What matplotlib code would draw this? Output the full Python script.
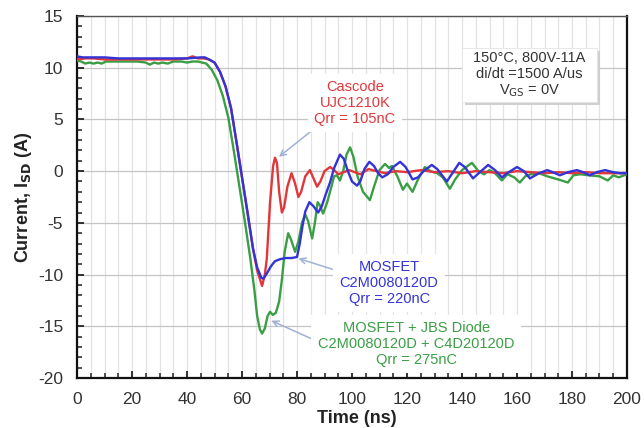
import matplotlib
matplotlib.use("Agg")
import matplotlib.pyplot as plt
from matplotlib.patches import Rectangle
from matplotlib.ticker import MultipleLocator

plt.rcParams['font.family'] = ['Liberation Sans', 'DejaVu Sans']
plt.rcParams['axes.unicode_minus'] = False

# Reverse-recovery current waveforms, time in ns, current in A
cascode_t = [0, 3, 6, 10, 15, 20, 25, 30, 35, 40, 42, 44, 46, 48, 50, 52, 54, 56, 58, 60,
             62, 64, 65.5, 67.3, 68.3, 69, 70.2, 71.3, 72, 72.7, 73.5, 74.5, 75.3, 76.5,
             78, 79.3, 80.5, 81.5, 83, 84.7, 86, 87.3, 88.5, 90, 92, 93.5, 95, 97, 99,
             101, 103, 106, 109, 112, 116, 120, 125, 130, 135, 140, 145, 150, 155, 160,
             165, 170, 175, 180, 185, 190, 195, 200]
cascode_i = [10.8, 10.9, 10.9, 10.8, 10.8, 10.8, 10.8, 10.8, 10.8, 10.9, 11.1, 10.9, 10.9,
             10.8, 10.5, 9.6, 8.2, 6.1, 2.8, -0.6, -4.0, -7.5, -9.6, -11.1, -10.0, -8.5,
             -3.0, 0.5, 1.3, 0.8, -2.0, -4.0, -3.5, -1.5, -0.2, -1.2, -2.5, -2.0, -0.5,
             0.1, -0.7, -1.5, -1.0, 0.0, 0.4, 0.1, -0.3, -0.1, 0.1, -0.1, -0.3, 0.2, 0.0,
             -0.2, 0.0, -0.1, 0.1, -0.1, 0.0, -0.2, 0.0, -0.1, -0.2, 0.0, -0.1, -0.2,
             -0.1, -0.2, -0.1, -0.2, -0.2, -0.2]

mosfet_t = [0, 2, 5, 10, 15, 20, 25, 30, 35, 40, 45, 46.5, 48, 50, 52, 54, 56, 58, 60, 62,
            64, 65.5, 67, 67.8, 69, 70.5, 72, 74, 76, 78, 80, 81, 82, 83, 84.5, 86, 87.7,
            89, 90.5, 92, 93.5, 95.6, 97, 98.5, 100, 101.8, 103, 104.5, 106.3, 108, 109.5,
            111, 113, 115, 117.5, 119.5, 122, 124, 126, 129, 131, 134.5, 136.5, 139, 141,
            144, 146.5, 149.5, 152, 154.5, 157, 160, 162.5, 164.7, 168, 171, 173, 175.6,
            178.5, 181.8, 184, 186.5, 189, 192, 195, 197.5, 200]
mosfet_i = [11.1, 11.0, 11.0, 11.0, 10.9, 10.9, 10.9, 10.9, 10.9, 10.9, 11.0, 11.0, 10.8,
            10.5, 9.6, 8.2, 6.1, 2.8, -0.6, -4.0, -7.5, -9.3, -10.3, -10.4, -9.9, -9.2,
            -8.7, -8.5, -8.4, -8.4, -8.3, -7.0, -5.3, -3.9, -3.0, -3.4, -4.0, -3.4, -2.2,
            -1.1, 0.3, 1.6, 1.2, 0.0, -1.0, -1.4, -1.0, 0.2, 0.9, 0.5, -0.2, -0.6, -0.3,
            0.4, 0.9, 0.4, -0.8, -0.6, 0.0, 0.6, 0.2, -1.0, -0.2, 0.8, 0.4, -0.7, -0.1,
            0.6, 0.1, -0.6, -0.1, 0.4, 0.0, -0.7, -0.2, 0.1, -0.1, -0.4, -0.1, 0.1, -0.1,
            -0.4, -0.1, 0.1, -0.1, -0.2, -0.2]

jbs_t = [0, 1.5, 3, 4.5, 6, 7.5, 9, 10.5, 13, 18, 22, 25, 26.5, 28, 29.5, 31, 33, 35, 38,
         40, 42, 44, 45.5, 47, 49, 51, 53, 55, 57, 59, 61, 63, 64.5, 65.5, 66.5, 67.3,
         68.3, 69.3, 70.2, 71.2, 72.3, 73.5, 74.5, 75.5, 76.8, 77.8, 79.3, 80.5, 81.8,
         83, 84, 85.5, 86.5, 87.5, 88.3, 89.5, 91, 92.5, 93.5, 94.5, 95.6, 96.8, 98,
         99.3, 100.5, 102, 104, 106.5, 108, 110, 112, 113.5, 114.5, 116.5, 118.5, 120,
         122, 124, 126.5, 128.5, 131, 133, 135.6, 137.5, 140, 143.6, 146, 148, 150, 152,
         154.5, 156.5, 159, 161, 163, 165, 168, 171, 175, 178.5, 180.5, 183, 186, 190,
         193, 195, 197, 200]
jbs_i = [10.7, 10.6, 10.4, 10.5, 10.4, 10.5, 10.4, 10.6, 10.6, 10.6, 10.6, 10.5, 10.3,
         10.5, 10.4, 10.5, 10.4, 10.6, 10.6, 10.5, 10.6, 10.6, 10.5, 10.4, 9.8, 8.8, 7.3,
         5.2, 2.0, -1.4, -4.8, -8.4, -11.5, -14.0, -15.3, -15.7, -15.2, -14.0, -13.6,
         -13.9, -13.7, -12.6, -10.5, -7.8, -6.0, -6.6, -7.8, -6.8, -5.0, -4.2, -4.8,
         -6.5, -5.0, -3.0, -3.3, -4.1, -3.0, -1.5, -0.5, -0.4, -0.9, 0.0, 1.6, 2.3, 1.4,
         -0.5, -2.0, -2.8, -1.5, 0.1, 0.7, 0.3, 0.5, -0.5, -1.8, -1.2, -2.0, -0.8, 0.4,
         0.0, -0.2, -0.6, -1.7, -0.8, 0.1, 0.8, 0.0, -0.3, 0.1, -0.2, -0.9, -0.3, -0.6,
         -1.1, -0.5, -0.3, -0.2, -0.5, -0.8, -1.1, -0.4, -0.3, -0.4, -0.5, -0.9, -0.4,
         -0.6, -0.3]

x_ticks = [0, 20, 40, 60, 80, 100, 120, 140, 160, 180, 200]
y_ticks = [-20, -15, -10, -5, 0, 5, 10, 15]

RED = '#e2373a'
BLUE = '#3333d6'
GREEN = '#3a9e44'
ARROW = '#9fb2d6'

fig = plt.figure(figsize=(6.44, 4.28), dpi=100)
ax = fig.add_axes([0.1196, 0.1168, 0.854, 0.8458])

ax.set_xlim(0, 200)
ax.set_ylim(-20, 15)
ax.set_xticks(x_ticks)
ax.set_yticks(y_ticks)
ax.xaxis.set_minor_locator(MultipleLocator(5))
ax.yaxis.set_minor_locator(MultipleLocator(1))

ax.grid(which='minor', axis='x', color='#e3e3e3', lw=0.9)
ax.grid(which='major', axis='x', color='#e3e3e3', lw=0.9)
ax.grid(which='major', axis='y', color='#c4c4c4', lw=0.9)
ax.set_axisbelow(True)

ax.tick_params(which='both', direction='in', top=False, right=False)
ax.tick_params(which='major', length=5, width=1.3, labelsize=12.5, pad=10, colors='#222222',
               labelcolor='#333333')
ax.tick_params(which='minor', length=3.5, width=1.1, colors='#222222')
for side in ['left', 'bottom', 'right']:
    ax.spines[side].set_color('#111111')
    ax.spines[side].set_linewidth(1.6)
ax.spines['top'].set_color('#555555')
ax.spines['top'].set_linewidth(1.0)

ax.plot(jbs_t, jbs_i, color=GREEN, lw=1.7, solid_joinstyle='round', zorder=3)
ax.plot(cascode_t, cascode_i, color=RED, lw=1.7, solid_joinstyle='round', zorder=4)
ax.plot(mosfet_t, mosfet_i, color=BLUE, lw=1.7, solid_joinstyle='round', zorder=5)

ax.set_xlabel('Time (ns)', fontsize=13, fontweight='bold', color='#222222')
ax.set_ylabel('Current, I$_{\\mathbf{SD}}$ (A)', fontsize=13, fontweight='bold', color='#222222')
ax.xaxis.set_label_coords(0.509, -0.088)
ax.yaxis.set_label_coords(-0.078, 0.5)

box = dict(boxstyle='square,pad=0.45', facecolor='white', edgecolor='none')
arrow = dict(arrowstyle='->', color=ARROW, lw=1.1, shrinkA=0, shrinkB=1)

ax.annotate('Cascode\nUJC1210K\nQrr = 105nC', xy=(73, 1.3), xytext=(101, 6.6),
            ha='center', va='center', fontsize=10.5, color=RED, linespacing=1.15,
            bbox=box, arrowprops=dict(arrow, relpos=(0.05, 0.0)), zorder=6)
ax.annotate('MOSFET\nC2M0080120D\nQrr = 220nC', xy=(80, -8.4), xytext=(113.5, -10.8),
            ha='center', va='center', fontsize=10.5, color=BLUE, linespacing=1.15,
            bbox=box, arrowprops=dict(arrow, relpos=(0.0, 0.75)), zorder=6)
ax.annotate('MOSFET + JBS Diode\nC2M0080120D + C4D20120D\nQrr = 275nC', xy=(70.2, -14.4),
            xytext=(123.3, -16.7), ha='center', va='center', fontsize=10.5, color=GREEN,
            linespacing=1.15, bbox=box, arrowprops=dict(arrow, relpos=(0.0, 0.55)), zorder=6)

# Test-condition box with a soft drop shadow
ax.add_patch(Rectangle((141.2, 6.4), 49, 5.2, facecolor='#cfcfcf', edgecolor='none', zorder=6))
ax.add_patch(Rectangle((140, 6.7), 49, 5.2, facecolor='white', edgecolor='#e4e4e4', lw=0.6, zorder=7))
ax.text(164.5, 9.3, '150°C, 800V-11A\ndi/dt =1500 A/us\nV$_{\\rm GS}$ = 0V', ha='center', va='center',
        fontsize=10.5, color='#333333', linespacing=1.15, zorder=8)

fig.savefig('out.png', dpi=100)
